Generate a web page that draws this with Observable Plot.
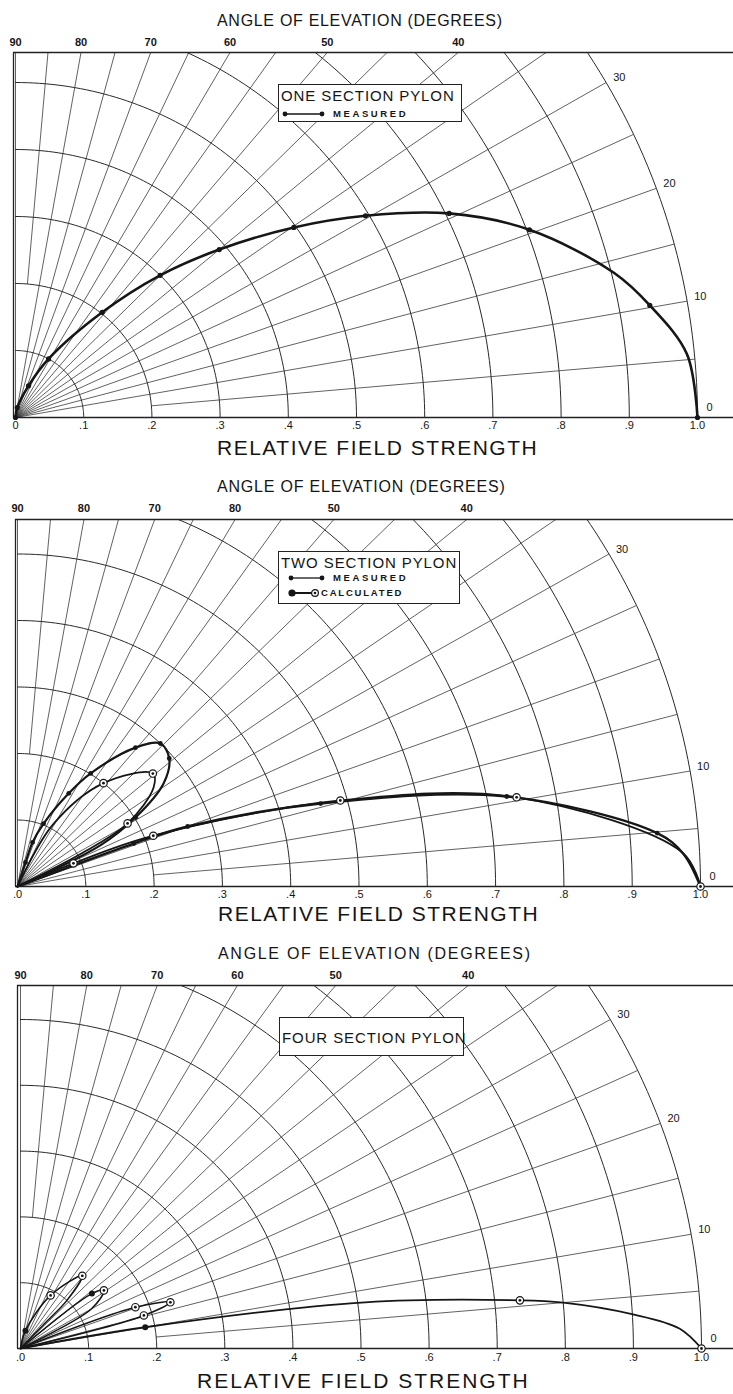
<!DOCTYPE html>
<html><head><meta charset="utf-8">
<script src="https://cdn.jsdelivr.net/npm/d3@7"></script>
<script src="https://cdn.jsdelivr.net/npm/@observablehq/plot@0.6"></script>
<style>
body{margin:0;background:#fff;}
#page{position:relative;width:733px;height:1394px;overflow:hidden;background:#fff;font-family:"Liberation Sans",Arial,sans-serif;color:#151515;}
.ttl{position:absolute;white-space:nowrap;line-height:1;}
.legend{position:absolute;background:#fff;border:1.4px solid #222;box-sizing:border-box;}
.legend span{position:absolute;white-space:nowrap;line-height:1;}
.legend svg{position:absolute;}
</style></head><body><div id="page"></div>
<script>
// ---------- tick labels ----------
const angleTicks = [90, 80, 70, 60, 50, 40, 30, 20, 10, 0];
const p1AngleLabels = ["90", "80", "70", "60", "50", "40", "30", "20", "10", "0"];
const p2AngleLabels = ["90", "80", "70", "80", "50", "40", "30", "", "10", "0"];
const p3AngleLabels = ["90", "80", "70", "60", "50", "40", "30", "20", "10", "0"];
const fieldTicks = [0, 0.1, 0.2, 0.3, 0.4, 0.5, 0.6, 0.7, 0.8, 0.9, 1.0];
const p1FieldLabels = ["0", ".1", ".2", ".3", ".4", ".5", ".6", ".7", ".8", ".9", "1.0"];
const p23FieldLabels = [".0", ".1", ".2", ".3", ".4", ".5", ".6", ".7", ".8", ".9", "1.0"];

// ---------- ONE SECTION PYLON (angle deg, relative field) ----------
const p1TraceAngle = [90, 80, 68, 61, 51, 45, 40, 34.8, 30.4, 25.6, 20.4, 13.8, 10.2, 5.5, 0];
const p1TraceField = [0, 0.015, 0.051, 0.100, 0.202, 0.300, 0.390, 0.497, 0.595, 0.705, 0.804, 0.904, 0.945, 0.989, 1.0];
const p1MeasAngle = [90, 80, 68, 61, 51, 45, 40, 34.8, 30.4, 25.6, 20.4, 10.2, 0];
const p1MeasField = [0, 0.015, 0.051, 0.100, 0.202, 0.300, 0.390, 0.497, 0.595, 0.705, 0.804, 0.945, 1.0];

// ---------- TWO SECTION PYLON ----------
// upper lobe, measured
const p2UpMeasAngle = [90, 72, 71.6, 68, 61.8, 57.8, 50.4, 45.8, 40.9, 35.9, 31, 27, 0];
const p2UpMeasField = [0, 0.038, 0.070, 0.102, 0.159, 0.201, 0.271, 0.300, 0.294, 0.264, 0.202, 0.136, 0];
const p2UpMeasDotAngle = [72, 71.6, 68, 61.8, 57.8, 50.4, 45.8, 40.9, 31];
const p2UpMeasDotField = [0.038, 0.070, 0.102, 0.159, 0.201, 0.271, 0.300, 0.294, 0.202];
// upper lobe, calculated
const p2UpCalcAngle = [90, 61, 51, 40.6, 36.8, 30.5, 28, 0];
const p2UpCalcField = [0, 0.105, 0.200, 0.261, 0.249, 0.187, 0.108, 0];
const p2UpCalcDotAngle = [51, 40.6, 30.5];
const p2UpCalcDotField = [0.200, 0.261, 0.187];
// main lobe, measured
const p2MainMeasAngle = [22, 20.8, 19.9, 15.7, 10.7, 4.9, 2.9, 0];
const p2MainMeasField = [0, 0.182, 0.265, 0.461, 0.729, 0.940, 0.976, 1.0];
const p2MainMeasDotAngle = [20.8, 19.9, 15.7, 10.7, 4.9];
const p2MainMeasDotField = [0.182, 0.265, 0.461, 0.729, 0.940];
// main lobe, calculated
const p2MainCalcAngle = [24, 23, 21, 15.3, 10.4, 3, 0];
const p2MainCalcField = [0, 0.089, 0.213, 0.490, 0.743, 0.975, 1.0];
const p2MainCalcDotAngle = [23, 21, 15.3, 10.4, 0];
const p2MainCalcDotField = [0.089, 0.213, 0.490, 0.743, 1.0];

// ---------- FOUR SECTION PYLON ----------
const p3LobeAAngle = [90, 75, 61.3, 50.6, 47, 47, 0];
const p3LobeAField = [0, 0.028, 0.092, 0.143, 0.100, 0.050, 0];
const p3LobeBAngle = [90, 38.5, 35.8, 30, 0];
const p3LobeBField = [0, 0.134, 0.151, 0.120, 0];
const p3LobeCAngle = [90, 20.4, 17.7, 15.5, 0];
const p3LobeCField = [0, 0.180, 0.231, 0.188, 0];
const p3MainAngle = [12, 10, 7.9, 5.7, 5.0, 3.3, 1.8, 0];
const p3MainField = [0, 0.186, 0.511, 0.737, 0.800, 0.901, 0.968, 1.0];
const p3FilledAngle = [75, 38.5, 10];
const p3FilledField = [0.028, 0.134, 0.186];
const p3CircledAngle = [61.3, 50.6, 35.8, 20.4, 17.7, 15.5, 5.7, 0];
const p3CircledField = [0.092, 0.143, 0.151, 0.180, 0.231, 0.188, 0.737, 1.0];

// ---------- helpers ----------
const rad = d => d * Math.PI / 180;
const pts = (angles, fields) => angles.map((a, i) => ({x: fields[i] * Math.cos(rad(a)), y: fields[i] * Math.sin(rad(a))}));
const ringRadii = d3.range(1, 11).map(i => i / 10);
const rayAngles = d3.range(0, 91, 5);
const INK = "#161616";

function trace(data, w) {
  return Plot.line(data, {x: "x", y: "y", curve: "catmull-rom", stroke: INK, strokeWidth: w, strokeLinejoin: "round"});
}
function filled(data, r) {
  return Plot.dot(data, {x: "x", y: "y", r: r, fill: INK, stroke: "none"});
}
function circled(data) {
  return [
    Plot.dot(data, {x: "x", y: "y", r: 3.7, fill: "#fff", stroke: INK, strokeWidth: 1.2}),
    Plot.dot(data, {x: "x", y: "y", r: 1.4, fill: INK, stroke: "none"})
  ];
}

function panel(cfg) {
  const {top, H, ox, oy, sx, sy, frameLeft, frameTop, angleLabels, fieldLabels, tickDy, topDy, marks} = cfg;
  const yTop = (oy - frameTop) / sy;
  const xLeft = (frameLeft - ox) / sx;
  const arcs = [];
  for (const r of ringRadii) for (let a = 0; a <= 90; a += 1) arcs.push({r, x: r * Math.cos(rad(a)), y: r * Math.sin(rad(a))});
  const rays = rayAngles.map(a => {
    const r0 = (a === 5 || a === 85) ? 0.2 : 0;
    return {x1: r0 * Math.cos(rad(a)), y1: r0 * Math.sin(rad(a)), x2: Math.cos(rad(a)), y2: Math.sin(rad(a))};
  });
  const lab = angleTicks.map((a, i) => ({a, t: angleLabels[i]}));
  const topLab = lab.filter(d => d.a >= 40).map(d => ({...d, x: d.a === 90 ? 0 : yTop / Math.tan(rad(d.a)), y: yTop}));
  const sideLab = lab.filter(d => d.a <= 30 && d.a > 0).map(d => ({...d, x: Math.cos(rad(d.a)), y: Math.sin(rad(d.a))}));
  const zeroLab = lab.filter(d => d.a === 0).map(d => ({...d, x: 1, y: 0}));
  const svg = Plot.plot({
    width: 733, height: H,
    marginLeft: frameLeft, marginTop: frameTop, marginRight: 0, marginBottom: H - oy,
    x: {domain: [0, 1], range: [ox, ox + sx], axis: null},
    y: {domain: [0, 1], range: [oy, oy - sy], axis: null},
    style: {fontFamily: "'Liberation Sans', Arial, sans-serif", background: "transparent", overflow: "visible"},
    marks: [
      Plot.link(rays, {x1: "x1", y1: "y1", x2: "x2", y2: "y2", stroke: "#3a3a3a", strokeWidth: 0.8, clip: true}),
      Plot.line(arcs, {x: "x", y: "y", z: "r", stroke: "#2a2a2a", strokeWidth: 1.0, clip: true}),
      Plot.ruleY([0], {stroke: "#222", strokeWidth: 1.3}),
      Plot.ruleY([yTop], {stroke: "#222", strokeWidth: 1.3}),
      Plot.ruleX([xLeft], {stroke: "#222", strokeWidth: 1.3}),
      ...marks,
      Plot.text(topLab, {x: "x", y: "y", text: "t", dy: topDy, fontSize: 11, fontWeight: "bold", fill: INK}),
      Plot.text(sideLab, {x: "x", y: "y", text: "t", dx: 7, dy: -5, textAnchor: "start", fontSize: 11, fill: INK}),
      Plot.text(zeroLab, {x: "x", y: "y", text: "t", dx: 9, dy: -10, textAnchor: "start", fontSize: 11, fill: INK}),
      Plot.text(fieldTicks, {x: d => d, frameAnchor: "bottom", text: (d, i) => fieldLabels[i], dy: tickDy, fontSize: 11, fill: INK})
    ]
  });
  svg.style.position = "absolute";
  svg.style.left = "0px";
  svg.style.top = top + "px";
  return svg;
}

const page = document.getElementById("page");

page.appendChild(panel({
  top: 30, H: 410, ox: 15, oy: 387, sx: 682, sy: 670, frameLeft: 13, frameTop: 22, topDy: -10, tickDy: 11,
  angleLabels: p1AngleLabels, fieldLabels: p1FieldLabels,
  marks: [trace(pts(p1TraceAngle, p1TraceField), 2.6), filled(pts(p1MeasAngle, p1MeasField), 2.6)]
}));

page.appendChild(panel({
  top: 497, H: 410, ox: 17, oy: 389, sx: 683, sy: 665, frameLeft: 15, frameTop: 22, topDy: -11, tickDy: 11,
  angleLabels: p2AngleLabels, fieldLabels: p23FieldLabels,
  marks: [
    trace(pts(p2UpMeasAngle, p2UpMeasField), 2.2),
    trace(pts(p2UpCalcAngle, p2UpCalcField), 1.8),
    trace(pts(p2MainCalcAngle, p2MainCalcField), 1.8),
    trace(pts(p2MainMeasAngle, p2MainMeasField), 2.4),
    filled(pts(p2UpMeasDotAngle, p2UpMeasDotField), 2.4),
    filled(pts(p2MainMeasDotAngle, p2MainMeasDotField), 2.4),
    ...circled(pts(p2UpCalcDotAngle, p2UpCalcDotField)),
    ...circled(pts(p2MainCalcDotAngle, p2MainCalcDotField))
  ]
}));

page.appendChild(panel({
  top: 963, H: 410, ox: 20, oy: 385, sx: 681, sy: 658, frameLeft: 17, frameTop: 22, topDy: -10, tickDy: 12,
  angleLabels: p3AngleLabels, fieldLabels: p23FieldLabels,
  marks: [
    trace(pts(p3LobeAAngle, p3LobeAField), 1.6),
    trace(pts(p3LobeBAngle, p3LobeBField), 1.6),
    trace(pts(p3LobeCAngle, p3LobeCField), 1.6),
    trace(pts(p3MainAngle, p3MainField), 1.8),
    filled(pts(p3FilledAngle, p3FilledField), 3),
    ...circled(pts(p3CircledAngle, p3CircledField))
  ]
}));

// ---------- titles ----------
function title(text, left, cy, fs, ls) {
  const d = document.createElement("div");
  d.className = "ttl";
  d.textContent = text;
  d.style.left = left + "px";
  d.style.top = (cy - 0.49 * fs) + "px";
  d.style.fontSize = fs + "px";
  d.style.letterSpacing = ls + "px";
  page.appendChild(d);
}
title("ANGLE OF ELEVATION (DEGREES)", 217, 21, 16, 0.7);
title("RELATIVE FIELD STRENGTH", 217, 447, 21, 1.5);
title("ANGLE OF ELEVATION (DEGREES)", 217, 487, 16, 0.8);
title("RELATIVE FIELD STRENGTH", 218, 913, 21, 1.5);
title("ANGLE OF ELEVATION (DEGREES)", 218, 954, 16, 1.7);
title("RELATIVE FIELD STRENGTH", 197, 1380, 21, 2.0);

// ---------- legends ----------
function legend(left, top, w, h, heading, headCy, rows) {
  const box = document.createElement("div");
  box.className = "legend";
  Object.assign(box.style, {left: left + "px", top: top + "px", width: w + "px", height: h + "px"});
  const t = document.createElement("span");
  t.textContent = heading;
  Object.assign(t.style, {left: "2px", top: (headCy - 0.49 * 15) + "px", fontSize: "15px", letterSpacing: "0.9px"});
  box.appendChild(t);
  for (const row of rows) {
    const s = document.createElementNS("http://www.w3.org/2000/svg", "svg");
    s.setAttribute("width", 50); s.setAttribute("height", 12);
    s.style.left = "2px"; s.style.top = (row.cy - 6) + "px";
    s.innerHTML = row.kind === "meas"
      ? `<line x1="${row.a}" x2="${row.b}" y1="6" y2="6" stroke="${INK}" stroke-width="1.3"/><circle cx="${row.a}" cy="6" r="2.4" fill="${INK}"/><circle cx="${row.b}" cy="6" r="2.4" fill="${INK}"/>`
      : `<line x1="${row.a}" x2="${row.b}" y1="6" y2="6" stroke="${INK}" stroke-width="2"/><circle cx="${row.a}" cy="6" r="3.6" fill="${INK}"/><circle cx="${row.b}" cy="6" r="3.4" fill="#fff" stroke="${INK}" stroke-width="1.2"/><circle cx="${row.b}" cy="6" r="1.3" fill="${INK}"/>`;
    box.appendChild(s);
    const l = document.createElement("span");
    l.textContent = row.text;
    Object.assign(l.style, {left: row.tx + "px", top: (row.cy - 0.49 * 9.5) + "px", fontSize: "9.5px", fontWeight: "bold", letterSpacing: row.ls + "px"});
    box.appendChild(l);
  }
  page.appendChild(box);
}
legend(278, 84, 184, 38, "ONE SECTION PYLON", 10, [{kind: "meas", a: 4, b: 41, cy: 29, tx: 54, text: "MEASURED", ls: 2.6}]);
legend(278, 551, 182, 53, "TWO SECTION PYLON", 10, [
  {kind: "meas", a: 10, b: 41, cy: 26, tx: 54, text: "MEASURED", ls: 2.6},
  {kind: "calc", a: 11, b: 34, cy: 41, tx: 42, text: "CALCULATED", ls: 1.8}
]);
legend(279, 1017, 185, 39, "FOUR SECTION PYLON", 19, []);
</script>
</body></html>
